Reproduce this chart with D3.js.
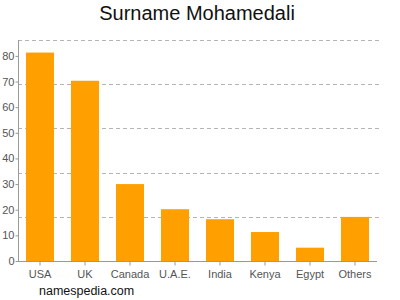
<!DOCTYPE html>
<html>
<head>
<meta charset="utf-8">
<script src="https://cdn.jsdelivr.net/npm/d3@7"></script>
<style>
  body { margin: 0; background: #fff; }
  svg { display: block; font-family: "Liberation Sans", Arial, sans-serif; }
</style>
</head>
<body>
<main></main>
<script>
const countries = ["USA", "UK", "Canada", "U.A.E.", "India", "Kenya", "Egypt", "Others"];
const counts = [81.3, 70.3, 30, 20.2, 16.3, 11.3, 5.2, 17.2];
const yTicks = [0, 10, 20, 30, 40, 50, 60, 70, 80];
const gridValues = [17.24, 34.48, 51.72, 68.96, 86.2];

const w = 400;
const h = 300;
const plotLeft = 18, plotRight = 377, plotTop = 40, plotBottom = 261;

const svg = d3.select("main")
  .append("svg")
  .attr("width", w)
  .attr("height", h);

// title
svg.append("text")
  .attr("x", 197)
  .attr("y", 20)
  .attr("text-anchor", "middle")
  .style("font-size", "20px")
  .attr("fill", "#111")
  .text("Surname Mohamedali");

const xScale = d3.scaleBand()
  .domain(countries)
  .range([plotLeft, plotRight])
  .paddingInner(0.378)
  .paddingOuter(0.178);

const yScale = d3.scaleLinear()
  .domain([0, 86.2])
  .range([plotBottom, plotTop]);

// dashed grid
svg.append("g")
  .selectAll("line")
  .data(gridValues)
  .enter()
  .append("line")
  .attr("x1", plotLeft)
  .attr("x2", plotRight + 4)
  .attr("y1", d => Math.round(yScale(d)) + 0.5)
  .attr("y2", d => Math.round(yScale(d)) + 0.5)
  .attr("stroke", "#b4b4b4")
  .attr("stroke-dasharray", "4,3");

// bars
svg.append("g")
  .selectAll("rect")
  .data(countries)
  .enter()
  .append("rect")
  .attr("x", d => xScale(d))
  .attr("width", xScale.bandwidth())
  .attr("y", (d, i) => yScale(counts[i]))
  .attr("height", (d, i) => plotBottom - yScale(counts[i]))
  .attr("fill", "#ffa000");

// axes
const xAxis = d3.axisBottom(xScale).tickSize(4).tickSizeOuter(0);
const yAxis = d3.axisLeft(yScale).tickValues(yTicks).tickSize(3).tickSizeOuter(0);

const gx = svg.append("g")
  .attr("transform", `translate(0,${plotBottom + 0.5})`)
  .call(xAxis);
gx.select(".domain").attr("stroke", "#999").attr("d", `M${plotLeft},0H${plotRight}`);
gx.selectAll(".tick line").attr("stroke", "#999");
gx.selectAll(".tick text")
  .attr("fill", "#555")
  .style("font-size", "11px")
  .attr("dy", "0.9em");

const gy = svg.append("g")
  .attr("transform", `translate(${plotLeft + 0.5},0)`)
  .call(yAxis);
gy.select(".domain").attr("stroke", "#999").attr("d", `M0,${plotBottom}V${plotTop}`);
gy.selectAll(".tick line").attr("stroke", "#999");
gy.selectAll(".tick text")
  .attr("fill", "#555")
  .style("font-size", "11px")
  .attr("x", -4);

// source
svg.append("text")
  .attr("x", 39)
  .attr("y", 295)
  .style("font-size", "12.5px")
  .attr("fill", "#111")
  .text("namespedia.com");
</script>
</body>
</html>
